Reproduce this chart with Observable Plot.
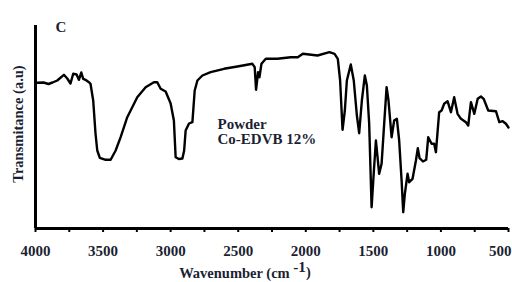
<!DOCTYPE html>
<html>
<head>
<meta charset="utf-8">
<script src="https://cdn.jsdelivr.net/npm/d3@7"></script>
<script src="https://cdn.jsdelivr.net/npm/@observablehq/plot@0.6"></script>
<style>
  html, body { margin: 0; padding: 0; background: #fff; }
  #chart { width: 512px; height: 282px; }
  svg { display: block; }
</style>
</head>
<body>
<div id="chart"></div>
<script>
// FTIR spectrum: wavenumber (cm-1) and transmittance (a.u.)
const wavenumber = [
  4000, 3987, 3941, 3904, 3874, 3839, 3790, 3765, 3741, 3721, 3696, 3679, 3661, 3647, 3630, 3605, 3593,
  3573, 3556, 3543, 3524, 3481, 3444, 3407, 3370, 3321, 3247, 3185, 3124, 3099, 3074, 3037, 3000,
  2976, 2963, 2939, 2913, 2900, 2889, 2864, 2839, 2822, 2802, 2765, 2704, 2605, 2506, 2395, 2378,
  2368, 2353, 2343, 2328, 2296, 2210, 2111, 2059, 2022, 1913, 1825, 1787, 1763, 1746, 1728, 1711,
  1696, 1667, 1645, 1622, 1605, 1585, 1563, 1548, 1531, 1513, 1496, 1481, 1457, 1439, 1420, 1402,
  1388, 1365, 1346, 1326, 1309, 1291, 1279, 1267, 1247, 1235, 1210, 1185, 1171, 1158, 1133, 1109,
  1094, 1069, 1050, 1037, 1013, 995, 976, 951, 926, 902, 877, 852, 815, 798, 778, 753,
  728, 704, 684, 650, 593, 568, 543, 519, 500
];
const transmittance = [
  146, 145.7, 146, 144.5, 146, 148, 153.7, 150, 145, 154.7, 154, 148.7, 156, 149.7, 148.7, 146.3, 144.7,
  128, 95, 78, 70.7, 68.7, 68.7, 78, 91.3, 111.3, 131.3, 141.3, 146.3, 146.3, 139.7, 137, 125,
  108, 71.3, 69.5, 70, 78, 98, 105, 106.3, 138, 148, 153, 156.3, 159.7, 162, 164.7, 161.3,
  138.7, 156.3, 151.3, 164.7, 169.7, 169.7, 171.3, 171.3, 174.7, 173, 176.3, 174.7, 169.7, 148, 98.7, 118,
  148, 164, 148, 113, 95.3, 128, 153, 143, 105, 21.3, 58, 88, 54.7, 64.7, 104.7, 141.3,
  128, 91.3, 108, 109.7, 88, 48, 16.3, 34.7, 54.7, 46.3, 49.7, 68, 80.3, 70.3, 67, 68.7,
  91.3, 84.7, 84.7, 76.3, 116.3, 118, 124.7, 127.3, 116.3, 131.3, 114.7, 109.7, 106.3, 103, 126.3, 114.7,
  129.7, 132, 129.7, 118, 117.3, 106.3, 107.3, 104.7, 101
];
const majorTicks = [4000, 3500, 3000, 2500, 2000, 1500, 1000, 500];
const minorTicks = [3750, 3250, 2750, 2250, 1750, 1250, 750];
const panelLabel = "C";
const yTitle = "Transmitance (a.u)";
const xTitle = "Wavenumber (cm -1)";
const sampleLabel = ["Powder", "Co-EDVB 12%"];

const data = wavenumber.map((w, i) => ({w, t: transmittance[i]}));
const inner = majorTicks.slice(0, -1);
const last = majorTicks.slice(-1);

const serif = "'Liberation Serif', 'DejaVu Serif', serif";
const ink = "#1c1f33";

const plot = Plot.plot({
  width: 512,
  height: 282,
  marginLeft: 35,
  marginRight: 4,
  marginTop: 25,
  marginBottom: 54,
  style: {fontFamily: serif, fontWeight: "bold", color: ink, background: "#fff"},
  x: {domain: [4000, 500], axis: null},
  y: {domain: [0, 203], axis: null},
  marks: [
    Plot.axisX({ticks: minorTicks, tickSize: 4, tickFormat: () => "", label: null, strokeWidth: 2, stroke: "#000"}),
    Plot.axisX({ticks: majorTicks, tickSize: 4, tickFormat: () => "", label: null, strokeWidth: 2, stroke: "#000"}),
    Plot.text(inner, {x: d => d, frameAnchor: "bottom", dy: 17, lineAnchor: "top", textAnchor: "middle",
      fontSize: 15, fontWeight: "bold", fill: ink, text: d => String(d)}),
    Plot.text(last, {x: d => d, frameAnchor: "bottom", dy: 17, dx: 3, lineAnchor: "top", textAnchor: "end",
      fontSize: 15, fontWeight: "bold", fill: ink, text: d => String(d)}),
    Plot.line(data, {x: "w", y: "t", stroke: "#000", strokeWidth: 2.4, strokeLinejoin: "round", curve: "linear"}),
    Plot.ruleX([4000], {y1: 0, y2: 203, stroke: "#000", strokeWidth: 3}),
    Plot.ruleY([0], {x1: 4000, x2: 500, stroke: "#000", strokeWidth: 3}),
    Plot.text([panelLabel], {frameAnchor: "top-left", dx: 20, dy: -4, textAnchor: "start", fontSize: 15, fontWeight: "bold", fill: ink, text: d => d}),
    Plot.text([yTitle], {frameAnchor: "left", dx: -17, dy: -3, textAnchor: "middle", rotate: -90, fontSize: 14.5, fontWeight: "bold", fill: ink, text: d => d}),
    Plot.text([xTitle], {frameAnchor: "bottom", dx: -27, dy: 49, textAnchor: "middle", fontSize: 14.5, fontWeight: "bold", fill: ink, text: d => d}),
    Plot.text([sampleLabel.join("\n")], {frameAnchor: "top-left", dx: 182, dy: 106, textAnchor: "start", lineAnchor: "middle",
      lineHeight: 1.05, fontSize: 15, fontWeight: "bold", fill: ink, text: d => d})
  ]
});

document.getElementById("chart").appendChild(plot);

// superscript for cm -1
d3.select(plot).selectAll("text").filter(function() { return this.textContent === xTitle; })
  .each(function() {
    const t = d3.select(this);
    const node = t.select("tspan").empty() ? t : t.select("tspan");
    node.text(null);
    node.append("tspan").text("Wavenumber (cm ");
    node.append("tspan").attr("dy", "-0.35em").attr("font-size", "1.05em").text("-1");
    node.append("tspan").attr("dy", "0.35em").text(")");
  });
</script>
</body>
</html>
